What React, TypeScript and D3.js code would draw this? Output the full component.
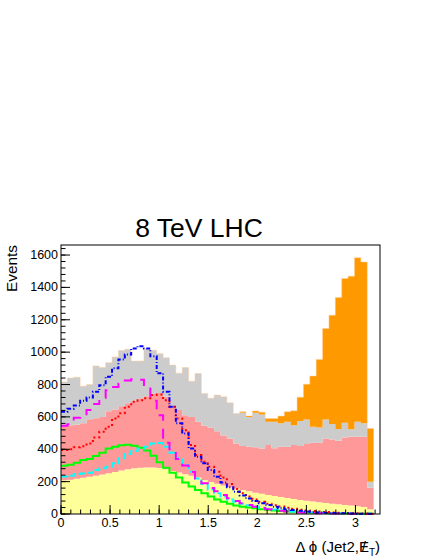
import React, { useEffect } from "react";
import * as d3 from "d3";

// canvas + frame (ROOT style)
const W = 432;
const H = 559;
const frame = { left: 61, right: 380, top: 245, bottom: 514 };
const BIN = 0.065; // bin width, range 0..3.25 (50 bins, last empty)

// stacked backgrounds, per-bin contents (not cumulative)
const yellowBkg = [208, 212, 218, 224, 230, 236, 244, 252, 260, 268, 276, 282, 286, 288, 288, 284, 276, 266, 256, 246, 236, 226, 210, 198, 187, 176, 166, 157, 148, 140, 132, 125, 118, 111, 105, 99, 93, 87, 82, 77, 72, 68, 64, 60, 56, 52, 48, 44, 30];
const pinkBkg = [337, 336, 334, 336, 355, 356, 356, 383, 385, 397, 409, 418, 429, 440, 457, 464, 448, 396, 386, 364, 364, 344, 335, 337, 325, 309, 301, 279, 272, 276, 280, 280, 308, 296, 311, 317, 333, 333, 350, 363, 368, 399, 397, 392, 417, 425, 429, 433, 132];
const grayBkg = [270, 292, 293, 230, 215, 323, 305, 300, 325, 345, 333, 245, 230, 290, 267, 242, 241, 258, 228, 295, 220, 298, 200, 180, 223, 239, 220, 185, 205, 184, 213, 210, 144, 163, 144, 154, 123, 155, 152, 99, 95, 117, 95, 73, 91, 46, 93, 83, 37];
const orangeBkg = [0, 0, 0, 0, 0, 0, 0, 0, 0, 0, 0, 0, 0, 0, 0, 0, 0, 0, 0, 0, 0, 0, 0, 0, 0, 0, 0, 0, 6, 6, 12, 14, 20, 20, 45, 62, 89, 147, 218, 313, 420, 562, 672, 812, 891, 946, 1014, 997, 329];

// overlaid (unstacked) histograms
const greenSig = [298, 305, 317, 333, 340, 358, 379, 405, 415, 424, 428, 422, 410, 393, 360, 320, 285, 255, 225, 195, 170, 148, 128, 108, 90, 75, 63, 53, 45, 40, 35, 30, 26, 22, 19, 16, 14, 12, 10, 8, 7, 6, 5, 4, 3, 3, 2, 2, 1];
const cyanSig = [232, 237, 247, 250, 255, 272, 282, 292, 313, 344, 370, 390, 405, 416, 436, 438, 416, 379, 344, 302, 261, 220, 185, 152, 128, 108, 90, 76, 64, 54, 46, 39, 33, 28, 23, 19, 16, 13, 11, 9, 8, 6, 5, 4, 4, 3, 2, 2, 1];
const magentaSig = [545, 555, 595, 600, 642, 680, 718, 765, 785, 805, 825, 832, 830, 790, 700, 610, 440, 400, 340, 300, 260, 220, 190, 160, 140, 118, 97, 80, 66, 55, 45, 37, 30, 25, 20, 16, 13, 10, 8, 7, 5, 4, 3, 3, 2, 2, 1, 1, 0];
const redSig = [395, 400, 412, 418, 436, 473, 508, 539, 590, 622, 662, 693, 703, 715, 735, 738, 703, 662, 590, 518, 426, 364, 323, 292, 261, 225, 185, 155, 128, 108, 90, 76, 64, 54, 46, 39, 32, 27, 22, 18, 15, 12, 10, 8, 6, 5, 4, 3, 1];
const blueSig = [632, 650, 670, 700, 720, 755, 796, 848, 900, 955, 985, 1023, 1037, 1023, 975, 870, 755, 662, 560, 498, 405, 354, 313, 272, 230, 195, 165, 138, 115, 95, 80, 66, 55, 45, 37, 30, 25, 20, 16, 13, 10, 8, 6, 5, 4, 3, 2, 2, 1];

const yTicks = [0, 200, 400, 600, 800, 1000, 1200, 1400, 1600];
const xTicks = [0, 0.5, 1, 1.5, 2, 2.5, 3];

const x = d3.scaleLinear().domain([0, 3.25]).range([frame.left, frame.right]);
const y = d3.scaleLinear().domain([0, 1662]).range([frame.bottom, frame.top]);

const stackKeys = ["yellow", "pink", "gray", "orange"];
const stackColors: Record<string, string> = {
  yellow: "#ffff99",
  pink: "#ff9999",
  gray: "#cccccc",
  orange: "#ff9900",
};

const overlays = [
  { values: greenSig, color: "#00ff00", dash: "none" },
  { values: cyanSig, color: "#00ffff", dash: "7,3" },
  { values: magentaSig, color: "#ff00ff", dash: "10,8" },
  { values: redSig, color: "#ff0000", dash: "2,3" },
  { values: blueSig, color: "#0000ff", dash: "4,2,1,2" },
];

const stepPts = (vals: number[]) =>
  vals
    .map((v, i) => [i * BIN, v] as [number, number])
    .concat([[vals.length * BIN, vals[vals.length - 1]]]);

const App = () => {
  useEffect(() => {
    document.body.style.margin = "0";
  }, []);

  const rows = yellowBkg.map((_, i) => ({
    yellow: yellowBkg[i],
    pink: pinkBkg[i],
    gray: grayBkg[i],
    orange: orangeBkg[i],
  }));
  const series = d3.stack<any>().keys(stackKeys)(rows);

  const area = d3
    .area<{ e: number; y0: number; y1: number }>()
    .x((d) => x(d.e))
    .y0((d) => y(d.y0))
    .y1((d) => y(d.y1))
    .curve(d3.curveStepAfter);

  const stepLine = d3
    .line<[number, number]>()
    .x((d) => x(d[0]))
    .y((d) => y(d[1]))
    .curve(d3.curveStepAfter);

  const yMinor = d3.range(0, 1662, 40);
  const xMinor = d3.range(0, 3.25, 0.1);

  const font = "'Liberation Sans', Arial, Helvetica, sans-serif";
  const totalTop = rows.map((r) => r.yellow + r.pink + r.gray + r.orange);

  return (
    <svg width={W} height={H} style={{ position: "absolute", left: 0, top: 0, background: "#fff" }} fontFamily={font}>
      {series.map((s) => {
        const pts = s.map((d, i) => ({ e: i * BIN, y0: d[0], y1: d[1] }));
        const last = s[s.length - 1];
        pts.push({ e: s.length * BIN, y0: last[0], y1: last[1] });
        return <path key={s.key} d={area(pts) || ""} fill={stackColors[s.key]} stroke="none" />;
      })}
      <path d={stepLine(stepPts(totalTop)) || ""} fill="none" stroke="#ffcc99" strokeOpacity={0.6} strokeWidth={0.8} />

      {overlays.map((o, k) => (
        <path
          key={k}
          d={stepLine(stepPts(o.values)) || ""}
          fill="none"
          stroke={o.color}
          strokeWidth={2}
          strokeDasharray={o.dash}
        />
      ))}

      {/* frame */}
      <rect x={frame.left} y={frame.top} width={frame.right - frame.left} height={frame.bottom - frame.top} fill="none" stroke="#000" strokeWidth={1} />

      {/* y axis ticks */}
      {yMinor.map((t) => (
        <line key={"ym" + t} x1={frame.left} x2={frame.left + 4.5} y1={y(t)} y2={y(t)} stroke="#000" />
      ))}
      {yTicks.map((t) => (
        <g key={"y" + t}>
          <line x1={frame.left} x2={frame.left + 9} y1={y(t)} y2={y(t)} stroke="#000" />
          <text x={58} y={y(t)} textAnchor="end" dominantBaseline="central" fontSize={12.5}>
            {t}
          </text>
        </g>
      ))}

      {/* x axis ticks */}
      {xMinor.map((t) => (
        <line key={"xm" + t} x1={x(t)} x2={x(t)} y1={frame.bottom} y2={frame.bottom - 4.5} stroke="#000" />
      ))}
      {xTicks.map((t) => (
        <g key={"x" + t}>
          <line x1={x(t)} x2={x(t)} y1={frame.bottom} y2={frame.bottom - 9} stroke="#000" />
          <text x={x(t)} y={527} textAnchor="middle" fontSize={12.5}>
            {t}
          </text>
        </g>
      ))}

      <text x={199} y={237} textAnchor="middle" fontSize={26.5}>
        8 TeV LHC
      </text>
      <text transform={`translate(17,${frame.top}) rotate(-90)`} textAnchor="end" fontSize={15.4}>
        Events
      </text>
      {/* slashed E (missing E_T): slash laid over the E */}
      <text x={frame.right} y={552} textAnchor="end" fontSize={15}>
        <tspan fontSize={15}>Δ ϕ (Jet2,E</tspan>
        <tspan fontSize={15} dx={-7.1}>/</tspan>
        <tspan fontSize={10} dx={2.9} dy={4}>T</tspan>
        <tspan fontSize={15} dy={-4}>)</tspan>
      </text>
    </svg>
  );
};

export default App;
